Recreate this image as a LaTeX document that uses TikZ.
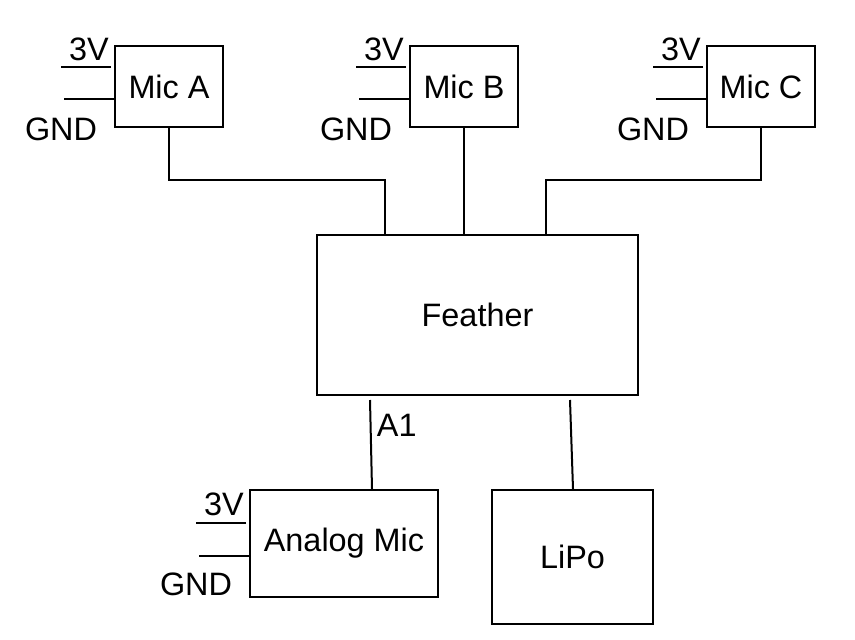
\documentclass[tikz,border=0pt]{standalone}
\usepackage{fontspec}
\setmainfont{Liberation Sans}
\usepackage{tikz}
\usetikzlibrary{calc}

\begin{document}
\begin{tikzpicture}[x=0.75pt, y=-0.75pt, line width=1.5pt,
		every node/.style={font=\fontsize{24.3}{29}\selectfont},
		mic/.style={draw, inner sep=0pt, minimum width=81pt, minimum height=60.75pt},
		pinlabel/.style={inner sep=0pt}]
		\useasboundingbox (0,0) rectangle (855,639);

		% boxes
		\node[mic] (micA) at (169,86.5) {Mic A};
		\node[mic] (micB) at (464,86.5) {Mic B};
		\node[mic] (micC) at (761,86.5) {Mic C};
		\node[draw, inner sep=0pt, minimum width=240.75pt, minimum height=120pt] (feather) at (477.5,315) {Feather};
		\node[draw, inner sep=0pt, minimum width=141pt, minimum height=80.25pt] (analog) at (344,543.5) {Analog Mic};
		\node[draw, inner sep=0pt, minimum width=120.75pt, minimum height=100.5pt] (lipo) at (572.5,557) {LiPo};

		% power pins of the mics
		\draw (micA.north west) ++(-3,22) -- ++(-50,0);
		\draw (micA.north west) ++(0,54) -- ++(-50,0);
		\node[pinlabel] at ($(micA.north west)+(-25,4)$) {3V};
		\node[pinlabel] at ($(micA.north west)+(-53,84)$) {GND};

		\draw (micB.north west) ++(-3,22) -- ++(-50,0);
		\draw (micB.north west) ++(0,54) -- ++(-50,0);
		\node[pinlabel] at ($(micB.north west)+(-25,4)$) {3V};
		\node[pinlabel] at ($(micB.north west)+(-53,84)$) {GND};

		\draw (micC.north west) ++(-3,22) -- ++(-50,0);
		\draw (micC.north west) ++(0,54) -- ++(-50,0);
		\node[pinlabel] at ($(micC.north west)+(-25,4)$) {3V};
		\node[pinlabel] at ($(micC.north west)+(-53,84)$) {GND};

		\draw (analog.north west) ++(-3,34) -- ++(-50,0);
		\draw (analog.north west) ++(0,67) -- ++(-50,0);
		\node[pinlabel] at ($(analog.north west)+(-25,15)$) {3V};
		\node[pinlabel] at ($(analog.north west)+(-53,95)$) {GND};

		% mics to feather
		\coordinate (jA) at (385,180);
		\coordinate (jC) at (546,180);
		\draw (micA.south) |- (jA) -- (jA |- feather.north);
		\draw (micB.south) -- (micB.south |- feather.north);
		\draw (micC.south) |- (jC) -- (jC |- feather.north);

		% feather to analog mic and lipo
		\coordinate (fA) at (370,400);
		\coordinate (fL) at (570,400);
		\draw (fA) -- (analog.north -| 372,0) node[pos=0.28, right=4pt, inner sep=0pt] {A1};
		\draw (fL) -- (lipo.north -| 573,0);
	\end{tikzpicture}
\end{document}
